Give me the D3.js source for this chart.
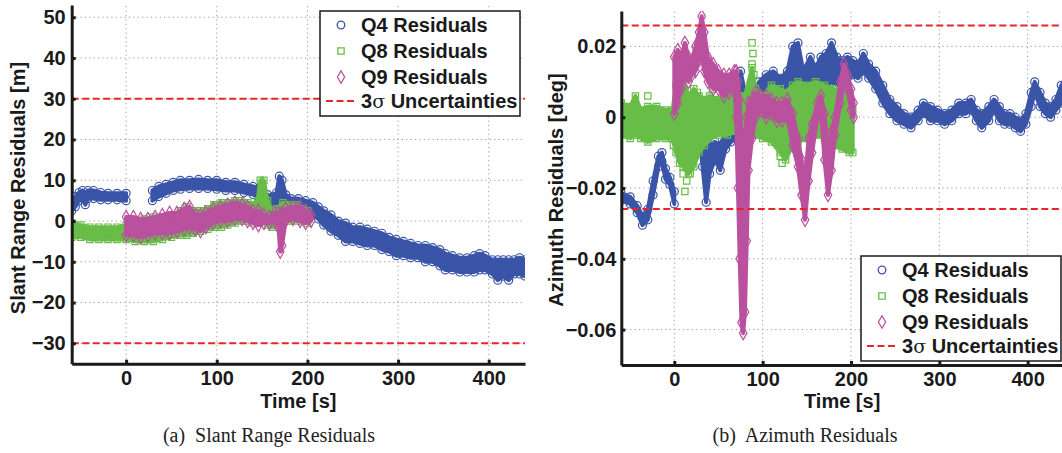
<!DOCTYPE html>
<html><head><meta charset="utf-8">
<script src="https://cdn.jsdelivr.net/npm/d3@7"></script>
<style>
body{margin:0;background:#fff;}
svg{display:block;font-family:"Liberation Sans",Arial,Helvetica,sans-serif;}
</style>
</head><body>
<svg id="c" width="1062" height="453"></svg>
<script>
// ---------- tick labels / categories ----------
const timeTicks = [0, 100, 200, 300, 400];
const slantTicks = [-30, -20, -10, 0, 10, 20, 30, 40, 50];
const azTicks = [-0.06, -0.04, -0.02, 0, 0.02];
const seriesNames = ["Q4 Residuals", "Q8 Residuals", "Q9 Residuals"];
const sigmaName = "Uncertainties";
const slantSigma = 30;
const azSigma = 0.0259;

// ---------- slant range residuals [m]: rows = [time, low, high] ----------
const slantQ4a = [[-60,2.5,4.5],[-56,3.5,6],[-52,5,7],[-48,5.5,7.5],[-45,4,6.5],[-42,5.5,7.5],[-36,5.5,7.5],[-28,5.2,7],[-20,5.2,6.8],[-10,5.2,6.8],[0,5,6.8]];
const slantQ4b = [[29,5,7.5],[36,6,8.5],[44,6.8,9],[52,7.5,9.5],[60,7.8,10],[70,8,10],[80,8,10.2],[90,8,10],[100,7.8,10],[110,7.5,9.5],[120,7.5,9.5],[130,7,9],[140,6.5,8.5],[146,6,8],[150,4.5,7],[156,4,6.5],[162,4,6],[166,4,7],[169,4,11],[172,4,10],[176,4,6.5],[182,3.5,5.5],[190,3,5.5],[198,2.5,5],[206,1.5,4.5],[212,0.5,3.5],[218,-1,2.5],[226,-2.5,1.5],[234,-3.5,0],[242,-5,-0.5],[250,-5,-1.5],[258,-5.5,-1.5],[266,-6,-2],[274,-6,-2.5],[282,-7,-3],[290,-7.5,-4],[298,-8.5,-4.5],[306,-8.5,-5],[314,-9,-5.5],[322,-9,-6],[330,-10,-6],[338,-10,-6.5],[346,-11,-7],[352,-12,-8],[360,-12,-8.5],[368,-12.5,-9],[376,-12.5,-9],[384,-12.5,-8.5],[390,-12,-8],[396,-12,-8.5],[404,-13,-9.5],[410,-14.5,-9.5],[416,-13.5,-9.5],[422,-14.5,-9.5],[428,-13,-9.5],[434,-13,-9],[440,-13.5,-9.5]];
const slantQ8 = [[-60,-4,-0.5],[-50,-4,-1],[-40,-4.5,-1.5],[-30,-4.5,-1.5],[-20,-4.5,-1.5],[-10,-4.5,-1.5],[0,-4.5,-1],[10,-5,0],[20,-5,0.5],[30,-5,1],[40,-4.5,1],[50,-4,1.5],[60,-3.5,2.5],[67,-3.5,3.5],[74,-3,2.5],[82,-2.5,2.5],[90,-2,3],[97,-1.5,4],[105,-1.5,4.5],[112,-1,4.5],[120,-0.5,5],[127,0,5],[134,0,4.5],[140,-0.5,4],[145,-0.5,5],[148,3,10],[152,3,10],[156,-1,5],[161,-1.5,2.5],[166,-1,3],[173,0,4.5],[180,0,4],[188,0,4],[195,0,3],[200,-0.5,2.5]];
const slantQ9 = [[0,-3.5,1],[8,-3.5,1],[16,-4,0.5],[24,-3.5,0.5],[32,-3,1],[40,-3,1.5],[48,-3,2],[56,-2.5,2],[64,-2,3],[70,-1.5,3.5],[76,-2,1.5],[82,-2.5,1.5],[88,-1.5,2],[96,-0.5,3],[104,0,3.5],[112,0,4],[120,0.5,4.5],[128,0.5,4],[134,0,3.5],[140,-0.5,2.5],[146,-1,2.5],[152,-0.5,1.5],[158,-0.5,1],[164,0,2],[168,-1.5,2],[170,-7.5,1.5],[172,-6,2],[176,0,3],[184,0.5,3.5],[192,0,3.5],[198,-0.5,2.5],[204,0,1.5]];

// ---------- azimuth residuals [deg]: rows = [time, low, high] ----------
const azQ4a = [[-60,-0.0235,-0.0215],[-50,-0.0245,-0.0225],[-42,-0.027,-0.025],[-36,-0.0305,-0.028],[-30,-0.029,-0.026],[-24,-0.022,-0.018],[-18,-0.014,-0.011],[-14,-0.0125,-0.010],[-10,-0.0175,-0.0145],[-5,-0.019,-0.017],[0,-0.0245,-0.021]];
const azQ4b = [[28,-0.004,0.002],[32,-0.014,-0.003],[36,-0.024,-0.008],[40,-0.016,-0.008],[46,-0.012,-0.007],[52,-0.015,-0.008],[58,-0.009,-0.004],[64,-0.007,0.002],[70,-0.006,0.005],[75,-0.018,0.013],[80,-0.008,0.007],[88,-0.005,0.004],[96,-0.003,0.010],[104,0.000,0.012],[112,0.003,0.013],[120,0.002,0.011],[128,0.004,0.013],[134,0.005,0.020],[140,0.006,0.021],[146,0.006,0.013],[154,0.006,0.017],[160,0.006,0.014],[166,0.008,0.017],[172,0.009,0.018],[178,0.010,0.021],[184,0.009,0.017],[190,0.010,0.016],[196,0.011,0.017],[202,0.012,0.016],[208,0.011,0.015],[214,0.013,0.018],[220,0.011,0.015],[228,0.008,0.013],[236,0.004,0.009],[244,0.001,0.005],[252,-0.001,0.003],[260,-0.002,0.001],[268,-0.003,0.000],[276,-0.001,0.002],[282,0.001,0.004],[290,-0.001,0.003],[298,-0.001,0.002],[306,-0.002,0.001],[314,-0.001,0.002],[322,0.001,0.004],[330,0.001,0.004],[336,0.002,0.005],[342,-0.001,0.002],[348,-0.003,0.001],[356,-0.001,0.003],[362,0.002,0.005],[368,-0.001,0.003],[374,-0.002,0.001],[380,-0.002,0.001],[386,-0.003,0.000],[392,-0.004,-0.001],[398,-0.002,0.001],[404,0.003,0.007],[408,0.007,0.010],[414,0.003,0.007],[420,0.001,0.004],[426,0.000,0.003],[432,0.002,0.005],[438,0.004,0.009],[444,0.008,0.011]];
const azQ8 = [[-60,-0.005,0.004],[-50,-0.006,0.003],[-44,-0.005,0.006],[-38,-0.006,0.002],[-30,-0.007,0.003],[-20,-0.006,0.003],[-10,-0.006,0.002],[-2,-0.006,0.002],[2,-0.010,0.009],[6,-0.013,0.008],[10,-0.014,0.011],[16,-0.016,0.006],[22,-0.014,0.008],[28,-0.010,0.006],[34,-0.008,0.005],[40,-0.006,0.006],[50,-0.005,0.005],[60,-0.005,0.006],[70,-0.004,0.007],[80,-0.006,0.006],[88,-0.004,0.014],[92,-0.005,0.008],[100,-0.006,0.006],[110,-0.007,0.009],[120,-0.010,0.008],[126,-0.012,0.007],[134,-0.008,0.009],[140,-0.007,0.010],[150,-0.006,0.009],[160,-0.005,0.010],[170,-0.006,0.009],[180,-0.008,0.008],[190,-0.009,0.007],[198,-0.010,0.006],[202,-0.010,0.002]];
const azQ8Outliers = [[12,-0.021],[14,-0.018],[10,-0.016],[18,-0.016],[15,-0.013],[88,0.021],[89,0.018],[88,0.015],[90,0.012],[122,-0.013],[120,-0.011],[43,0.008],[26,0.007],[-30,0.006],[-1,-0.008]];
const azQ9 = [[0,0.001,0.017],[4,0.004,0.019],[8,0.008,0.017],[12,0.012,0.021],[16,0.010,0.017],[20,0.012,0.016],[24,0.013,0.020],[28,0.016,0.024],[31,0.017,0.0285],[34,0.013,0.024],[38,0.010,0.017],[44,0.008,0.015],[50,0.008,0.013],[56,0.006,0.012],[62,0.007,0.012],[68,0.008,0.013],[70,0.000,0.013],[72,-0.020,0.010],[74,-0.040,0.005],[76,-0.058,-0.005],[78,-0.061,-0.010],[80,-0.055,-0.005],[82,-0.035,0.000],[84,-0.015,0.004],[88,-0.006,0.005],[92,0.000,0.007],[98,0.002,0.006],[104,0.000,0.006],[110,0.001,0.005],[116,-0.001,0.004],[122,-0.001,0.004],[128,0.000,0.005],[134,-0.008,0.001],[140,-0.014,-0.006],[144,-0.022,-0.012],[148,-0.029,-0.018],[152,-0.018,-0.006],[156,-0.010,-0.002],[162,0.000,0.004],[166,0.002,0.006],[170,-0.012,0.001],[174,-0.022,-0.010],[178,-0.015,-0.004],[182,-0.005,0.000],[188,0.004,0.010],[192,0.010,0.015],[196,0.008,0.012],[200,0.002,0.008],[203,0.000,0.004]];

// ---------- styles ----------
const COLORS = ["#3a55a7", "#67bd47", "#b9519e"];
const RED = "#e8262a";
const SYMS = [d3.symbolCircle, d3.symbolSquare, d3.symbolDiamond];
const FONT = '"Liberation Sans",Arial,Helvetica,sans-serif';

const svg = d3.select("#c");
const minus = s => s.replace("-", "\u2212");

function panel(o) {
  const {x, y, id} = o;
  const [x0, x1] = x.range();
  const [yb, yt] = y.range();
  const g = svg.append("g");

  g.append("clipPath").attr("id", id).append("rect")
    .attr("x", x0).attr("y", yt).attr("width", x1 - x0).attr("height", yb - yt);

  // grid
  const grid = g.append("g").attr("stroke", "#9a9a9a").attr("stroke-width", 1).attr("stroke-dasharray", "1.2,3.2");
  timeTicks.forEach(t => grid.append("line").attr("x1", x(t)).attr("x2", x(t)).attr("y1", yb).attr("y2", yt));
  o.yTicks.forEach(v => grid.append("line").attr("x1", x0).attr("x2", x1).attr("y1", y(v)).attr("y2", y(v)));

  // data
  const data = g.append("g").attr("clip-path", `url(#${id})`);
  const area = d3.area().x(d => x(d[0])).y0(d => y(d[1])).y1(d => y(d[2]));
  o.series.forEach((segs, i) => {
    segs.forEach(seg => {
      data.append("path").attr("d", area(seg)).attr("fill", COLORS[i])
        .attr("stroke", COLORS[i]).attr("stroke-width", 4).attr("stroke-linejoin", "round");
      const sym = d3.symbol().type(SYMS[i]).size(i === 1 ? 40 : 50);
      seg.forEach(d => [d[1], d[2]].forEach(v => {
        data.append("path").attr("d", sym()).attr("transform", `translate(${x(d[0])},${y(v)})`)
          .attr("fill", "none").attr("stroke", COLORS[i]).attr("stroke-width", 1.2);
      }));
    });
    if (o.outliers && o.outliers[i]) {
      const sym = d3.symbol().type(SYMS[i]).size(40);
      o.outliers[i].forEach(d => data.append("path").attr("d", sym())
        .attr("transform", `translate(${x(d[0])},${y(d[1])})`)
        .attr("fill", "none").attr("stroke", COLORS[i]).attr("stroke-width", 1.2));
    }
  });

  // 3-sigma lines
  [o.sigma, -o.sigma].forEach(v => g.append("line").attr("x1", x0).attr("x2", x1)
    .attr("y1", y(v)).attr("y2", y(v)).attr("stroke", RED).attr("stroke-width", 2)
    .attr("stroke-dasharray", "7,3.5"));

  // axes
  const ax = g.append("g").attr("transform", `translate(0,${yb})`)
    .call(d3.axisBottom(x).tickValues(timeTicks).tickSizeInner(-4).tickSizeOuter(0).tickPadding(7).tickFormat(d => minus(String(d))));
  const ay = g.append("g").attr("transform", `translate(${x0},0)`)
    .call(d3.axisLeft(y).tickValues(o.yTicks).tickSizeInner(-4).tickSizeOuter(0).tickPadding(o.pad).tickFormat(o.fmt));
  [ax, ay].forEach(a => {
    a.select(".domain").attr("stroke", "#1a1a1a").attr("stroke-width", 3);
    a.selectAll(".tick line").attr("stroke", "#1a1a1a").attr("stroke-width", 3);
    a.selectAll("text").attr("font-family", FONT).attr("font-size", 20).attr("font-weight", "bold").attr("fill", "#1a1a1a");
  });

  // axis titles
  g.append("text").attr("x", (x0 + x1) / 2).attr("y", 408).attr("text-anchor", "middle")
    .attr("font-family", FONT).attr("font-size", 20).attr("font-weight", "bold").attr("fill", "#1a1a1a").text("Time [s]");
  g.append("text").attr("transform", `translate(${o.ylx},${o.yly}) rotate(-90)`).attr("text-anchor", "middle")
    .attr("dominant-baseline", "central")
    .attr("font-family", FONT).attr("font-size", 20).attr("font-weight", "bold").attr("fill", "#1a1a1a").text(o.ylabel);

  // caption
  g.append("text").attr("x", o.capx).attr("y", 442).attr("text-anchor", "middle")
    .attr("font-family", '"Liberation Serif","Times New Roman",serif').attr("font-size", 20).attr("fill", "#222")
    .attr("xml:space", "preserve").text(o.caption);

  // legend
  const L = o.legend;
  const lg = g.append("g").attr("transform", `translate(${L.x},${L.y})`);
  lg.append("rect").attr("width", 200).attr("height", 105).attr("fill", "#fff").attr("stroke", "#1a1a1a").attr("stroke-width", 1.5);
  const rows = [14, 40, 66, 90];
  seriesNames.forEach((n, i) => {
    lg.append("path").attr("d", d3.symbol().type(SYMS[i]).size(i === 1 ? 40 : 45)())
      .attr("transform", `translate(21,${rows[i]})`).attr("fill", "none").attr("stroke", COLORS[i]).attr("stroke-width", 1.3);
    lg.append("text").attr("x", 41).attr("y", rows[i]).attr("dominant-baseline", "central")
      .attr("font-family", FONT).attr("font-size", 20).attr("font-weight", "bold").attr("fill", "#1a1a1a").text(n);
  });
  lg.append("line").attr("x1", 6).attr("x2", 37).attr("y1", rows[3]).attr("y2", rows[3])
    .attr("stroke", RED).attr("stroke-width", 2).attr("stroke-dasharray", "7,3.5");
  const st = lg.append("text").attr("x", 41).attr("y", rows[3]).attr("dominant-baseline", "central")
    .attr("font-family", FONT).attr("font-size", 20).attr("font-weight", "bold").attr("fill", "#1a1a1a");
  st.append("tspan").text("3");
  st.append("tspan").attr("font-weight", "normal").attr("font-family", '"DejaVu Serif","Liberation Serif",serif').attr("font-size", 19).text("\u03c3");
  st.append("tspan").text(" " + sigmaName);
}

panel({
  id: "clipL",
  x: d3.scaleLinear([-60, 440], [71.7, 525]),
  y: d3.scaleLinear([-35, 53], [363.7, 5]),
  yTicks: slantTicks,
  fmt: d => minus(String(d)),
  pad: 6,
  sigma: slantSigma,
  series: [[slantQ4a, slantQ4b], [slantQ8], [slantQ9]],
  ylabel: "Slant Range Residuals [m]", ylx: 18, yly: 188,
  caption: "(a)  Slant Range Residuals", capx: 269,
  legend: {x: 320, y: 11}
});

panel({
  id: "clipR",
  x: d3.scaleLinear([-60, 440], [621.3, 1063]),
  y: d3.scaleLinear([-0.07, 0.03], [365, 11]),
  yTicks: azTicks,
  fmt: d => d === 0 ? "0" : (d < 0 ? "\u2212" : "") + Math.abs(d).toFixed(2),
  pad: 5,
  sigma: azSigma,
  series: [[azQ4a, azQ4b], [azQ8], [azQ9]],
  outliers: [null, azQ8Outliers, null],
  ylabel: "Azimuth Residuals [deg]", ylx: 556, yly: 190,
  caption: "(b)  Azimuth Residuals", capx: 805,
  legend: {x: 861, y: 256}
});
</script>
</body></html>
